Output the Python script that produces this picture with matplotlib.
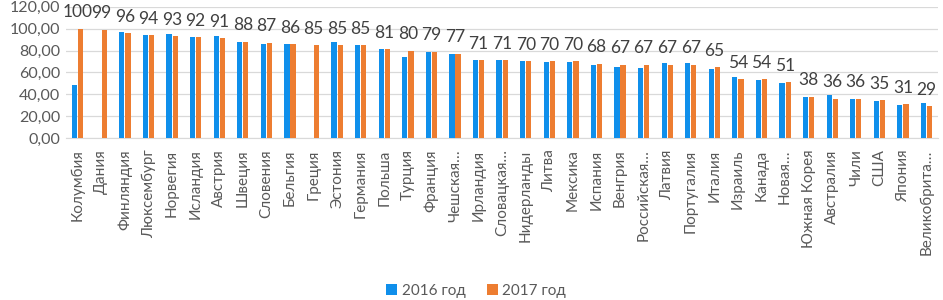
import matplotlib
matplotlib.use("Agg")
import matplotlib.pyplot as plt
import numpy as np

countries = ["Колумбия", "Дания", "Финляндия", "Люксембург", "Норвегия", "Исландия",
             "Австрия", "Швеция", "Словения", "Бельгия", "Греция", "Эстония", "Германия",
             "Польша", "Турция", "Франция", "Чешская…", "Ирландия", "Словацкая…",
             "Нидерланды", "Литва", "Мексика", "Испания", "Венгрия", "Российская…",
             "Латвия", "Португалия", "Италия", "Израиль", "Канада", "Новая…",
             "Южная Корея", "Австралия", "Чили", "США", "Япония", "Великобрита…"]

values_2016 = [49, np.nan, 97, 94, 95, 92, 93.5, 88, 86, 85.5, np.nan, 88, 85,
               81.5, 74.5, 78.5, 76.5, 71.5, 71.5, 70.5, 69.5, 69.5, 67, 64.8, 64.5,
               69, 68.5, 63.5, 55.7, 53.2, 50.2, 37.3, 39, 35.8, 34.2, 30, 31.8]

values_2017 = [100, 99, 96, 94, 93, 92, 91, 88, 87, 86, 85, 85, 85, 81, 80, 79, 77,
               71, 71, 70, 70, 70, 68, 67, 67, 67, 67, 65, 54, 54, 51, 38, 36, 36,
               35, 31, 29]

series_names = ["2016 год", "2017 год"]
colors = ["#0F8FEB", "#ED7D31"]
yticks = [0, 20, 40, 60, 80, 100, 120]

plt.rcParams['font.family'] = ['Lato', 'DejaVu Sans']

fig = plt.figure(figsize=(9.43, 3.0), dpi=100)
ax = fig.add_axes([0.070, 0.539, 0.925, 0.439])

x = np.arange(len(countries))
w = 0.22
ax.bar(x - 0.13, values_2016, width=w, color=colors[0], label=series_names[0], zorder=3)
ax.bar(x + 0.13, values_2017, width=w, color=colors[1], label=series_names[1], zorder=3)

for xi, v in zip(x, values_2017):
    ax.annotate(f"{v:.0f}", xy=(xi, v), xytext=(0, 6), textcoords="offset points",
                ha="center", va="bottom", fontsize=12.5, color="#404040")

ax.set_xlim(-0.5, len(countries) - 0.5)
ax.set_ylim(0, 120)
ax.set_yticks(yticks)
ax.set_yticklabels([f"{t:.2f}".replace(".", ",") for t in yticks], fontsize=11.5, color="#595959")
ax.set_xticks(x)
ax.set_xticklabels(countries, rotation=90, fontsize=11, color="#595959")
ax.tick_params(axis="x", length=0, pad=8)
ax.tick_params(axis="y", length=0, pad=4)
ax.grid(axis="y", color="#d9d9d9", linewidth=0.9, zorder=0)
for s in ["top", "right", "left"]:
    ax.spines[s].set_visible(False)
ax.spines["bottom"].set_color("#d9d9d9")

handles, labels = ax.get_legend_handles_labels()
fig.legend(handles, labels, loc="center", bbox_to_anchor=(0.505, 0.03), ncol=2,
           frameon=False, fontsize=11, handlelength=0.7, handleheight=0.7,
           handletextpad=0.3, columnspacing=1.4, labelcolor="#595959")

fig.savefig("out.png", dpi=100)
